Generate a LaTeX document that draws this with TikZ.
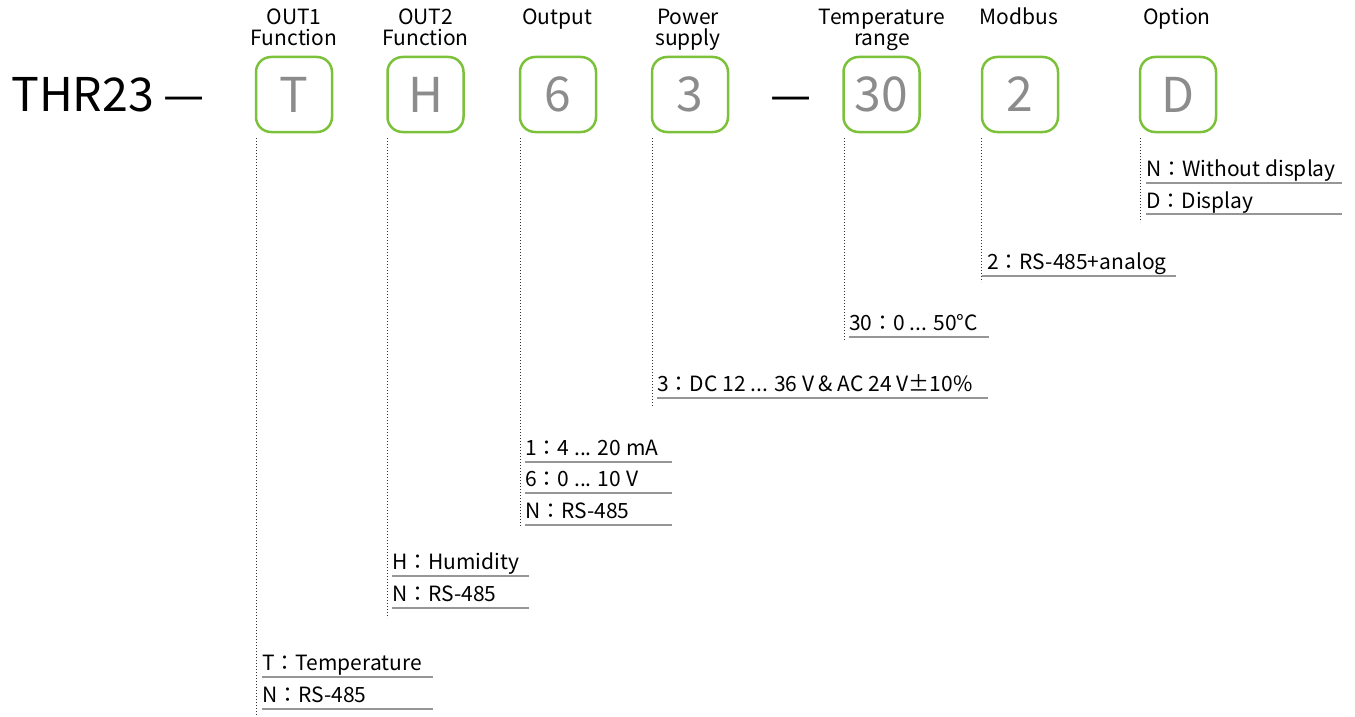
\documentclass[tikz,border=0pt]{standalone}
\usepackage{fontspec}
\setmainfont{Noto Sans CJK JP}
\definecolor{boxgreen}{RGB}{124,193,58}
\definecolor{lettergrey}{RGB}{140,140,140}
\definecolor{rulegrey}{RGB}{150,150,150}
\definecolor{dotcol}{RGB}{50,50,50}
\tikzset{
  codebox/.style={draw=boxgreen, line width=2.5pt, rounded corners=15pt, minimum width=76pt, minimum height=75pt, inner sep=0pt, text=lettergrey, font=\fontsize{48}{52}\selectfont},
  header/.style={align=center, anchor=base, inner sep=0pt, font=\fontsize{21}{21}\selectfont},
  entry/.style={anchor=base west, inner sep=0pt, font=\fontsize{21}{24}\selectfont},
  dotline/.style={draw=dotcol, line width=1pt, dash pattern=on 1pt off 2pt},
  uline/.style={draw=rulegrey, line width=1.5pt},
  bigtext/.style={inner sep=0pt, font=\fontsize{46.5}{50}\selectfont},
  dashtext/.style={inner sep=0pt, font=\fontsize{46}{50}\selectfont},
}
\begin{document}
\begin{tikzpicture}[x=1pt,y=-1pt]
\useasboundingbox (0,0) rectangle (1355,717);
% title
\node[bigtext, anchor=base west] (title) at (11,111) {THR23};
\node[dashtext, anchor=base] (dash1) at (184,111) {—};
\node[dashtext, anchor=base] (dash2) at (791,111) {—};
% boxes
\node[codebox] (bT) at (294,94.5) {T};
\node[codebox] (bH) at (425.5,94.5) {H};
\node[codebox] (b6) at (558,94.5) {6};
\node[codebox] (b3) at (690,94.5) {3};
\node[codebox] (b30) at (881.5,94.5) {30};
\node[codebox] (b2) at (1020,94.5) {2};
\node[codebox] (bD) at (1178,94.5) {D};
% headers
\node[header] (hT) at (294,46) {OUT1\\Function};
\node[header] (hH) at (425.5,46) {OUT2\\Function};
\node[header] (h6) at (557,25) {Output};
\node[header] (h3) at (688,46) {Power\\supply};
\node[header] (h30) at (882,46) {Temperature\\range};
\node[header] (h2) at (1019,25) {Modbus};
\node[header] (hD) at (1177,25) {Option};
% dotted leaders
\coordinate (eT) at (256,715);
\coordinate (eH) at (387.5,618);
\coordinate (e6) at (520,527);
\coordinate (e3) at (652,406);
\coordinate (e30) at (844,341);
\coordinate (e2) at (981,282);
\coordinate (eD) at (1140,222);
\draw[dotline] (256,138) -- (eT);
\draw[dotline] (387.5,138) -- (eH);
\draw[dotline] (520,138) -- (e6);
\draw[dotline] (652,138) -- (e3);
\draw[dotline] (844,138) -- (e30);
\draw[dotline] (981,138) -- (e2);
\draw[dotline] (1140,138) -- (eD);
% entries: Option
\node[entry] (d1) at (1146,176) {N：Without display};
\draw[uline] (1146,183) -- (1342,183);
\node[entry] (d2) at (1146,208) {D：Display};
\draw[uline] (1146,214) -- (1342,214);
% Modbus
\node[entry] (m1) at (987,269) {2：RS-485+analog};
\draw[uline] (982,276) -- (1176,276);
% Temperature range
\node[entry] (t1) at (849,330) {30：0 ... 50°C};
\draw[uline] (849,337) -- (989,337);
% Power supply
\node[entry] (p1) at (657,391) {3：DC 12 ... 36 V \& AC 24 V±10\%};
\draw[uline] (657,398) -- (988,398);
% Output
\node[entry] (o1) at (525,455) {1：4 ... 20 mA};
\draw[uline] (525,462) -- (672,462);
\node[entry] (o2) at (525,486) {6：0 ... 10 V};
\draw[uline] (525,493) -- (672,493);
\node[entry] (o3) at (525,518) {N：RS-485};
\draw[uline] (525,525) -- (672,525);
% OUT2
\node[entry] (u1) at (392,569) {H：Humidity};
\draw[uline] (392,576) -- (529,576);
\node[entry] (u2) at (392,601) {N：RS-485};
\draw[uline] (392,608) -- (529,608);
% OUT1
\node[entry] (v1) at (262,670) {T：Temperature};
\draw[uline] (262,677) -- (433,677);
\node[entry] (v2) at (262,702) {N：RS-485};
\draw[uline] (262,709) -- (433,709);
\end{tikzpicture}
\end{document}
